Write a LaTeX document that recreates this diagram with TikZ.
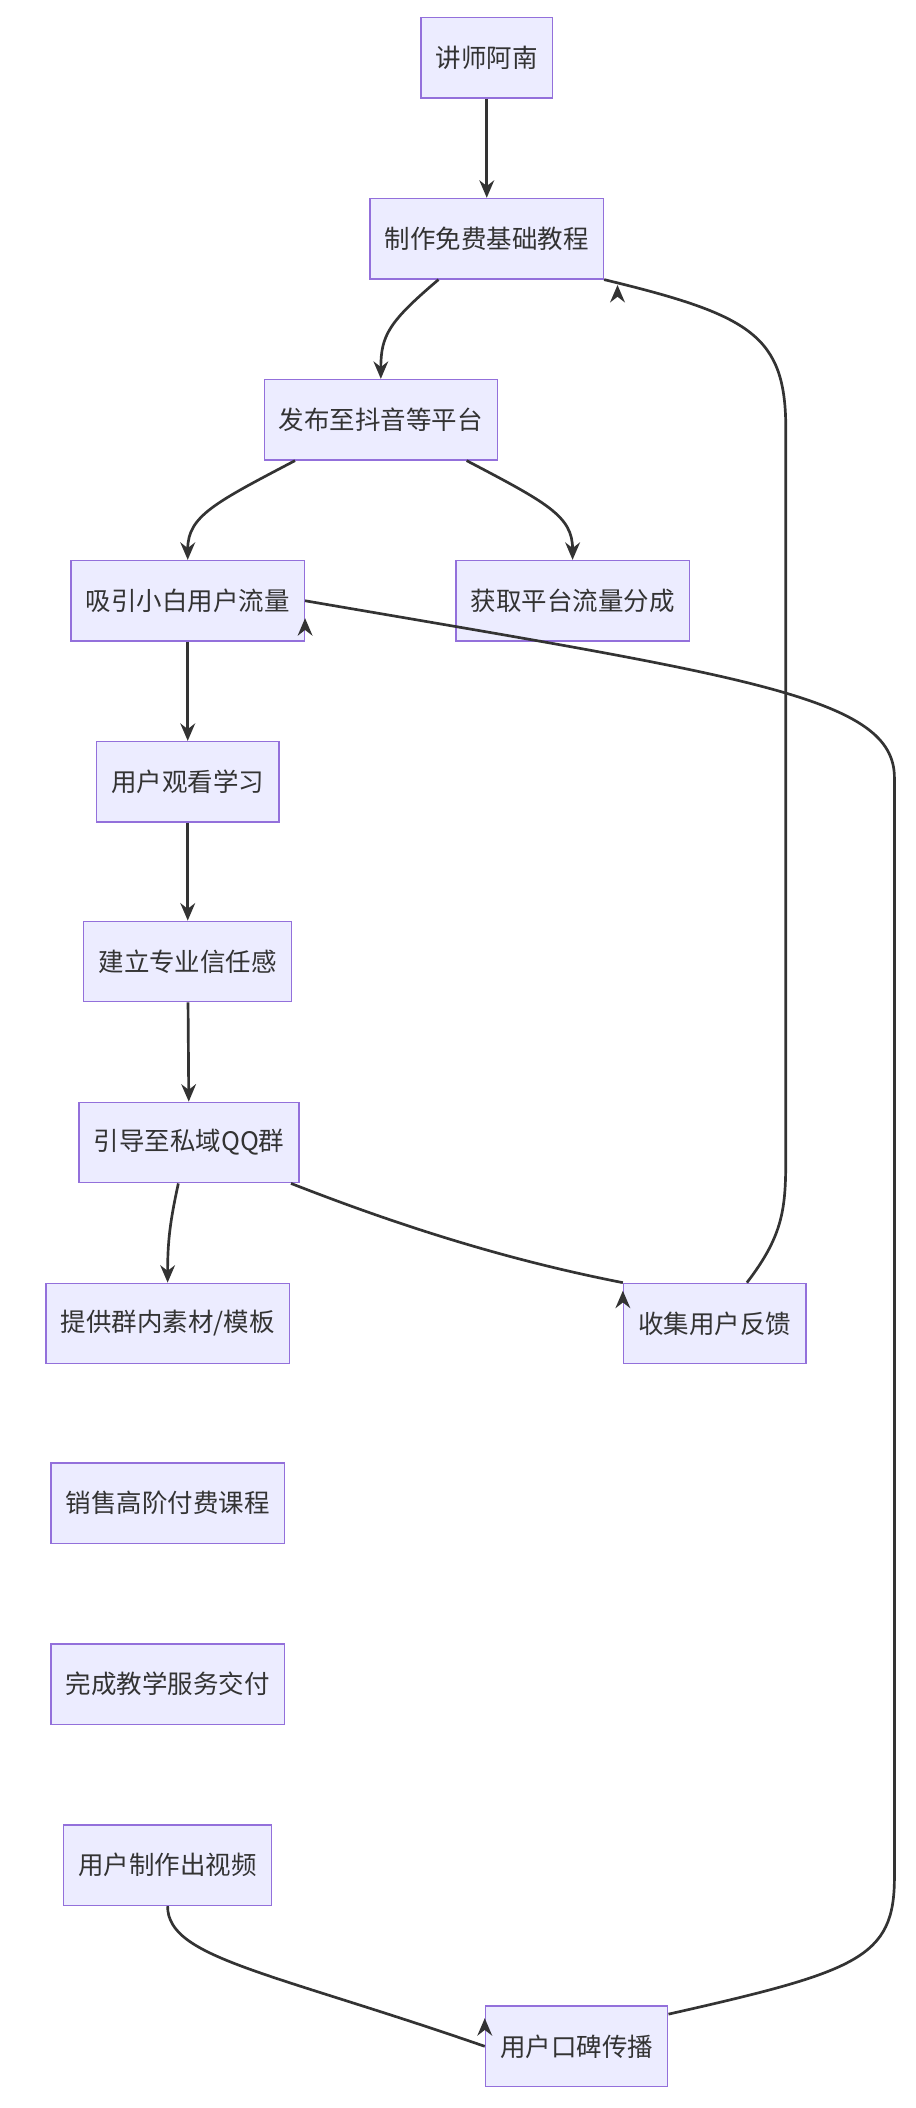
\documentclass[tikz,border=0pt]{standalone}
\usepackage{fontspec}
\setmainfont{Noto Sans CJK SC}
\usetikzlibrary{arrows.meta}
\definecolor{nfill}{HTML}{ECECFF}
\definecolor{nline}{HTML}{9370DB}
\definecolor{eline}{HTML}{333333}
\begin{document}
\begin{tikzpicture}[x=1pt,y=-1pt,
  box/.style={draw=nline,fill=nfill,line width=1pt,minimum height=60pt,inner xsep=11pt,font=\fontsize{19}{22}\selectfont,text=eline},
  edge/.style={draw=eline,line width=2pt,-{Stealth[length=13pt,width=11pt]}}]
\useasboundingbox (0,0) rectangle (683,1572);
\node[box] (a) at (363,43) {讲师阿南};
\node[box] (b) at (363,178) {制作免费基础教程};
\node[box] (c) at (284,313) {发布至抖音等平台};
\node[box] (d) at (140,448) {吸引小白用户流量};
\node[box] (e) at (427,448) {获取平台流量分成};
\node[box] (f) at (140,583) {用户观看学习};
\node[box] (g) at (140,717) {建立专业信任感};
\node[box] (h) at (141,852) {引导至私域QQ群};
\node[box] (i) at (125,987) {提供群内素材/模板};
\node[box] (j) at (533,987) {收集用户反馈};
\node[box] (k) at (125,1121) {销售高阶付费课程};
\node[box] (l) at (125,1256) {完成教学服务交付};
\node[box] (m) at (125,1391) {用户制作出视频};
\node[box] (n) at (430,1526) {用户口碑传播};
\draw[edge] (a) -- (b);
\draw[edge] (b.south) ++(-36,0) .. controls (290,240) and (284,250) .. (c.north);
\draw[edge] (c.south) ++(-64,0) .. controls (160,375) and (140,385) .. (d.north);
\draw[edge] (c.south) ++(64,0) .. controls (408,375) and (427,385) .. (e.north);
\draw[edge] (d) -- (f);
\draw[edge] (f) -- (g);
\draw[edge] (g) -- (h);
\draw[edge] (h.south) ++(-8,0) .. controls (127,910) and (125,925) .. (i.north);
\draw[edge] (h.south) ++(76,0) .. controls (300,915) and (380,940) .. (j.north west) ++(0,6);
\draw[edge] (j.north) ++(24,0) .. controls (585,920) and (586,900) .. (586,860) -- (586,320) .. controls (586,250) and (560,235) .. (b.south east) ++(10,4);
\draw[edge] (m.south) .. controls (125,1460) and (200,1470) .. (n.west) ++(0,-21);
\draw[edge] (n.east) ++(0,-24) .. controls (640,1470) and (667,1460) .. (667,1400) -- (667,580) .. controls (667,520) and (560,505) .. (d.east) ++(0,13);
\end{tikzpicture}
\end{document}
